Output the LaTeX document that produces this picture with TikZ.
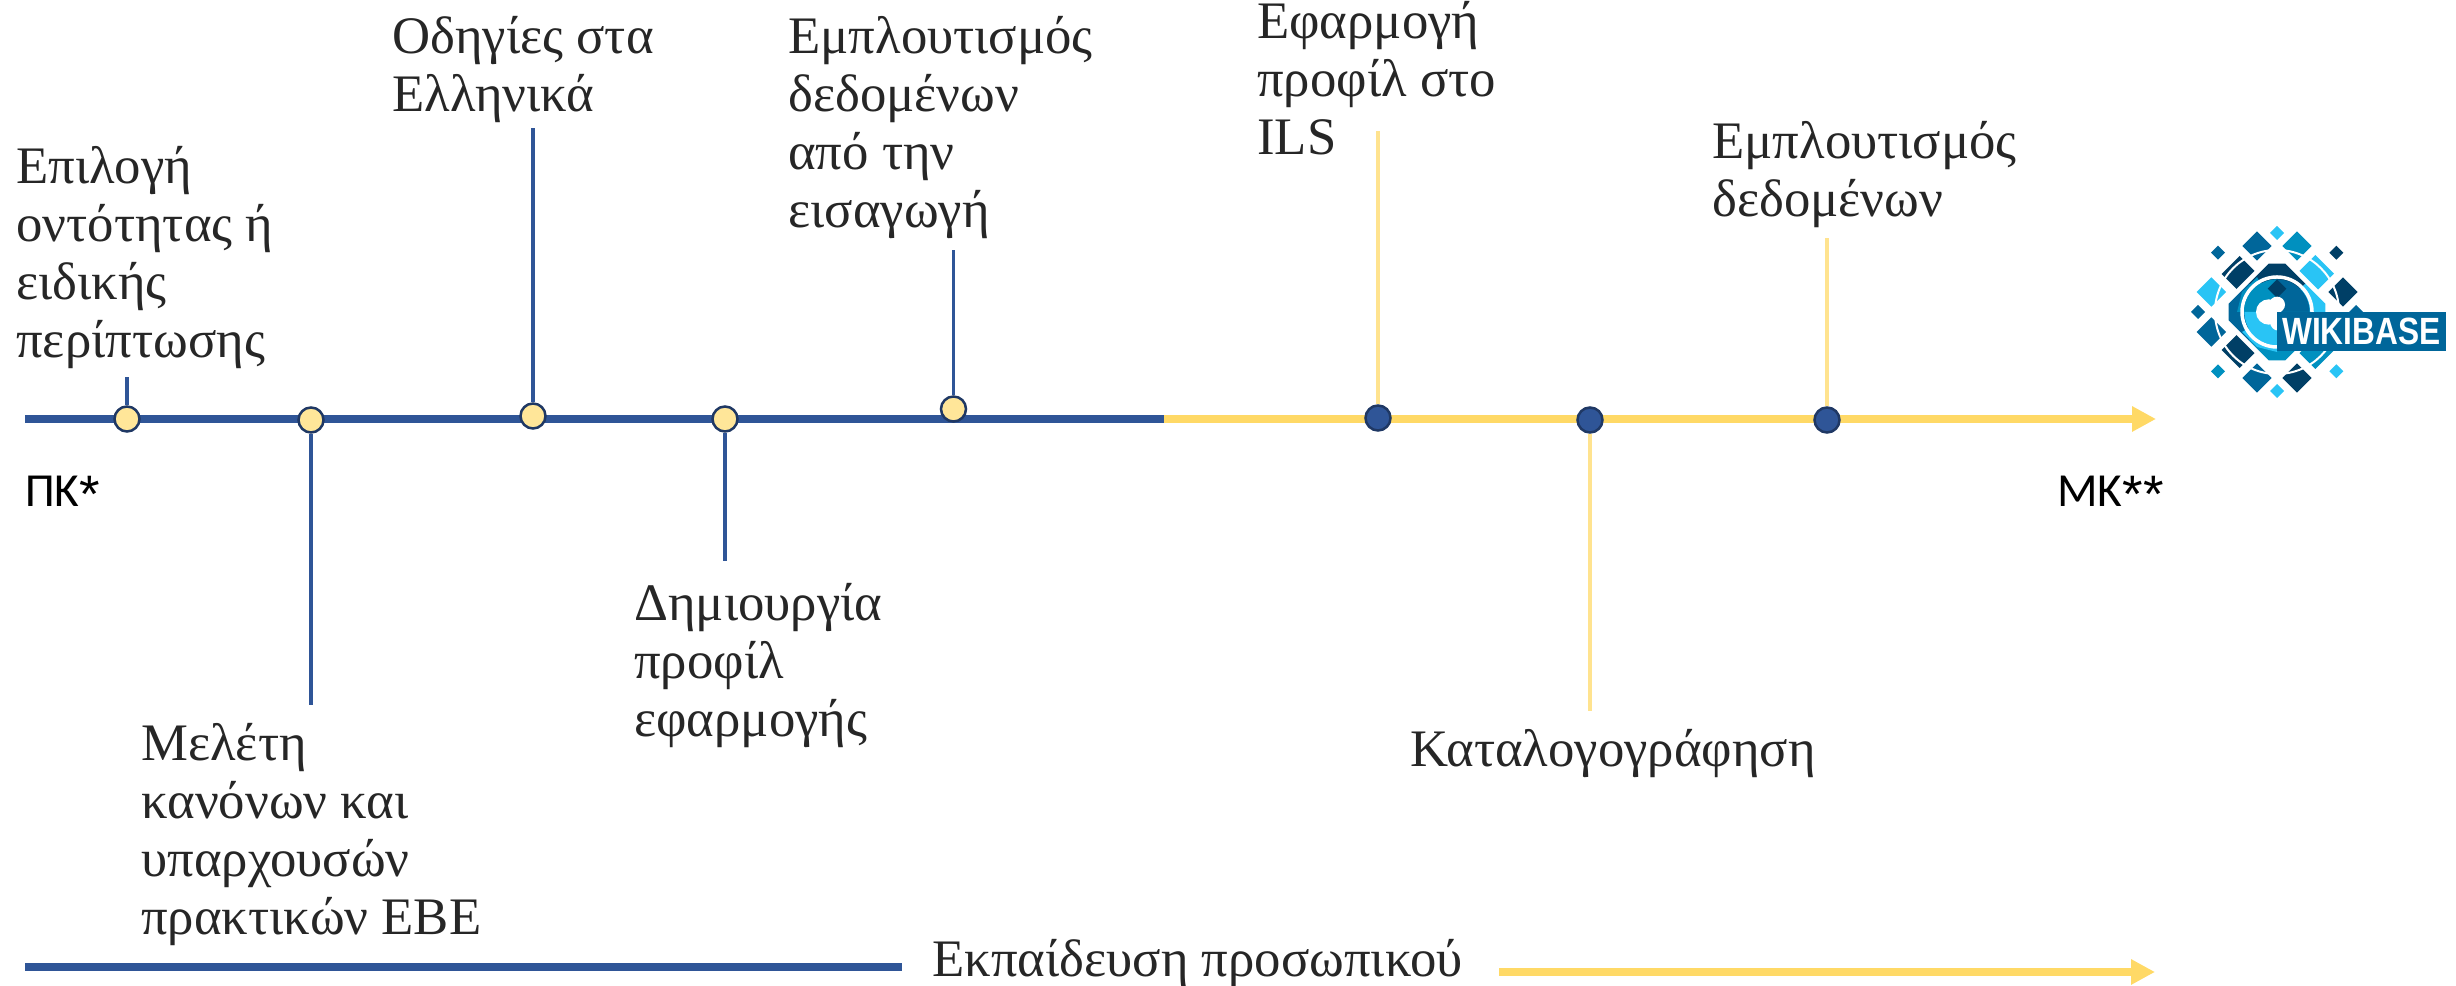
\documentclass[tikz,border=0pt]{standalone}
\usepackage{fontspec}
\setmainfont{Liberation Serif}
\newfontfamily\labelsans{Carlito}
\newfontfamily\logosans{Liberation Sans}
\usetikzlibrary{arrows.meta}

\definecolor{lineblue}{HTML}{2F5597}
\definecolor{lineyellow}{HTML}{FFD966}
\definecolor{stempale}{HTML}{FFE38F}
\definecolor{dotpale}{HTML}{FFE699}
\definecolor{dotedge}{HTML}{1F3864}
\definecolor{logodark}{HTML}{003F66}
\definecolor{logomid}{HTML}{00669A}
\definecolor{logosea}{HTML}{0090BF}
\definecolor{logosky}{HTML}{29C4F5}

\newcommand{\labelstar}{\raisebox{-0.12cm}{\logosans\fontsize{30}{30}\selectfont*}}

\tikzset{
  dotpaleyellow/.style={circle,draw=dotedge,line width=0.05cm,fill=dotpale,minimum size=0.5cm,inner sep=0},
  dotdarkblue/.style={circle,draw=dotedge,line width=0.05cm,fill=lineblue,minimum size=0.5cm,inner sep=0},
  stemblue/.style={draw=lineblue,line width=0.07cm},
  stemyellow/.style={draw=stempale,line width=0.07cm},
  axisblue/.style={draw=lineblue,line width=0.16cm},
  axisyellow/.style={draw=lineyellow,line width=0.16cm,-{Triangle[length=0.48cm,width=0.48cm]}},
  steptext/.style={anchor=north west,align=left,inner sep=0,text=black!85,font=\fontsize{30}{33}\selectfont},
  endtext/.style={anchor=base west,inner sep=0,font=\labelsans\fontsize{27}{30}\selectfont},
}

\begin{document}
\begin{tikzpicture}
  \useasboundingbox (0,0) rectangle (49.12,19.72);

  % main line
  \coordinate (axisstart) at (0.5,11.34);
  \coordinate (axismid) at (23.28,11.34);
  \coordinate (axisend) at (43.12,11.34);
  \draw[axisblue] (axisstart) -- (axismid);
  \draw[axisyellow] (axismid) -- (axisend);

  % training line
  \coordinate (trainstart) at (0.5,0.38);
  \coordinate (trainstop) at (18.04,0.38);
  \coordinate (trainresume) at (29.98,0.28);
  \coordinate (trainend) at (43.1,0.28);
  \draw[axisblue] (trainstart) -- (trainstop);
  \draw[axisyellow] (trainresume) -- (trainend);

  \node[dotpaleyellow] (dota) at (2.54,11.34) {};
  \node[dotpaleyellow] (dotb) at (6.22,11.32) {};
  \node[dotpaleyellow] (dotc) at (10.66,11.40) {};
  \node[dotpaleyellow] (dotd) at (14.5,11.34) {};
  \node[dotpaleyellow] (dote) at (19.07,11.54) {};
  \node[dotdarkblue] (dotf) at (27.56,11.36) {};
  \node[dotdarkblue] (dotg) at (31.8,11.32) {};
  \node[dotdarkblue] (doth) at (36.54,11.32) {};

  \coordinate (stema) at (2.54,12.18);
  \coordinate (stemb) at (6.22,5.62);
  \coordinate (stemc) at (10.66,17.16);
  \coordinate (stemd) at (14.5,8.5);
  \coordinate (steme) at (19.07,14.72);
  \coordinate (stemf) at (27.56,17.1);
  \coordinate (stemg) at (31.8,5.5);
  \coordinate (stemh) at (36.54,14.96);

  \draw[stemblue] (dota.north) -- (stema);
  \draw[stemblue] (dotb.south) -- (stemb);
  \draw[stemblue] (dotc.north) -- (stemc);
  \draw[stemblue] (dotd.south) -- (stemd);
  \draw[stemblue] (dote.north) -- (steme);
  \draw[stemyellow] (dotf.north) -- (stemf);
  \draw[stemyellow] (dotg.south) -- (stemg);
  \draw[stemyellow] (doth.north) -- (stemh);

  \node[steptext] (texta) at (0.32,16.8) {Επιλογή\\οντότητας ή\\ειδικής\\περίπτωσης};
  \node[steptext] (textb) at (2.82,5.26) {Μελέτη\\κανόνων και\\υπαρχουσών\\πρακτικών ΕΒΕ};
  \node[steptext] (textc) at (7.84,19.4) {Οδηγίες στα\\Ελληνικά};
  \node[steptext] (textd) at (12.68,8.06) {Δημιουργία\\προφίλ\\εφαρμογής};
  \node[steptext] (texte) at (15.76,19.4) {Εμπλουτισμός\\δεδομένων\\από την\\εισαγωγή};
  \node[steptext] (textf) at (25.14,19.7) {Εφαρμογή\\προφίλ στο\\ILS};
  \node[steptext] (textg) at (28.2,5.14) {Καταλογογράφηση};
  \node[steptext] (texth) at (34.24,17.3) {Εμπλουτισμός\\δεδομένων};
  \node[steptext] (texttrain) at (18.64,0.94) {Εκπαίδευση προσωπικού};

  \node[endtext] (textstart) at (0.5,9.58) {ΠΚ\labelstar};
  \node[endtext] (textend) at (41.14,9.58) {ΜΚ\labelstar\labelstar};

  % logo, units are zoomed pixels round the middle
  \begin{scope}[shift={(45.54,13.48)},x=0.006667cm,y=-0.006667cm]
    \foreach \cx/\cy/\cr/\cc in {0/-237/21/logosky,0/237/21/logosky,-237/0/21/logomid,237/0/21/logomid,
      -177/-178/21/logomid,178/-178/21/logodark,-177/178/21/logosea,178/178/21/logosky,
      -60/-198/44/logomid,60/-198/44/logosea,-60/198/44/logomid,60/198/44/logodark,
      -197/-60/44/logosky,-197/60/44/logomid,198/-60/44/logodark,
      -112/-114/54/logodark,115/-115/56/logosky,-112/114/54/logodark,115/115/56/logosea}
      \fill[\cc] (\cx-\cr,\cy) -- (\cx,\cy-\cr) -- (\cx+\cr,\cy) -- (\cx,\cy+\cr) -- cycle;
    % white arc over the outer chips
    \draw[white,line width=0.04cm] (0,0) circle (186);
    % middle, four colours
    \fill[white] (-25,-165) -- (25,-165) -- (165,-25) -- (165,25) -- (25,165) -- (-25,165) -- (-165,25) -- (-165,-25) -- cycle;
    \fill[logodark] (0,0) -- (-85,-85) -- (-25,-145) -- (25,-145) -- (85,-85) -- cycle;
    \fill[logosky] (0,0) -- (85,-85) -- (145,-25) -- (145,25) -- (85,85) -- cycle;
    \fill[logosea] (0,0) -- (85,85) -- (25,145) -- (-25,145) -- (-85,85) -- cycle;
    \fill[logomid] (0,0) -- (-85,85) -- (-145,25) -- (-145,-25) -- (-85,-85) -- cycle;
    \fill[logosky] (0,0) -- (-105,60) -- (-60,105) -- (0,120) -- cycle;
    \fill[logosea] (0,0) -- (-60,-105) -- (-105,-60) -- (-120,0) -- cycle;
    \draw[white,line width=0.07cm] (0,0) circle (105);
    \fill[logosea] (-98,0) arc (180:270:98) -- (0,0) -- cycle;
    \fill[logomid] (0,-98) arc (270:360:98) -- (0,0) -- cycle;
    \fill[logosky] (-98,0) arc (180:90:98) -- (0,0) -- cycle;
    \fill[logosea] (0,98) arc (90:0:98) -- (0,0) -- cycle;
    \fill[logodark] (0,-98) -- (28,-70) -- (0,-42) -- (-28,-70) -- cycle;
    \fill[white] (-25,0) circle (38);
    \fill[white] (0,-22) circle (24);
    \fill[white] (5,30) circle (26);
    \fill[logomid] (0,0) rectangle (507,118);
    \node[anchor=center,inner sep=0,text=white,font=\logosans\bfseries\fontsize{18}{20}\selectfont] (logotext) at (253,59) {\scalebox{1}[1.2]{WIKIBASE}};
  \end{scope}
\end{tikzpicture}
\end{document}
